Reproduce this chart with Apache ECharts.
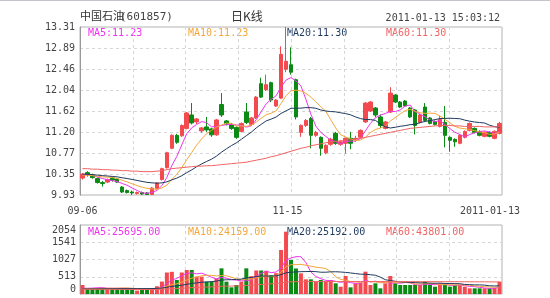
<!DOCTYPE html>
<html><head><meta charset="utf-8">
<script src="https://cdn.jsdelivr.net/npm/echarts@6/dist/echarts.min.js"></script>
<style>html,body{margin:0;padding:0;background:#fff}#c{width:550px;height:298px}</style>
</head><body><div id="c"></div>
<script>
const dates = ['2010-09-06','2010-09-07','2010-09-08','2010-09-09','2010-09-10','2010-09-13','2010-09-14','2010-09-15','2010-09-16','2010-09-17','2010-09-20','2010-09-21','2010-09-27','2010-09-28','2010-09-29','2010-09-30',
'2010-10-08','2010-10-11','2010-10-12','2010-10-13','2010-10-14','2010-10-15','2010-10-18','2010-10-19','2010-10-20','2010-10-21','2010-10-22','2010-10-25','2010-10-26','2010-10-27','2010-10-28','2010-10-29',
'2010-11-01','2010-11-02','2010-11-03','2010-11-04','2010-11-05','2010-11-08','2010-11-09','2010-11-10','2010-11-11','2010-11-12','2010-11-15','2010-11-16','2010-11-17','2010-11-18','2010-11-19','2010-11-22','2010-11-23','2010-11-24','2010-11-25','2010-11-26','2010-11-29','2010-11-30',
'2010-12-01','2010-12-02','2010-12-03','2010-12-06','2010-12-07','2010-12-08','2010-12-09','2010-12-10','2010-12-13','2010-12-14','2010-12-15','2010-12-16','2010-12-17','2010-12-20','2010-12-21','2010-12-22','2010-12-23','2010-12-24','2010-12-27','2010-12-28','2010-12-29','2010-12-30','2010-12-31',
'2011-01-04','2011-01-05','2011-01-06','2011-01-07','2011-01-10','2011-01-11','2011-01-12','2011-01-13'];
const xTickLabels = {0:'09-06', 42:'11-15', 84:'2011-01-13'};
const opens  = [10.27,10.38,10.33,10.26,10.18,10.19,10.27,10.25,10.09,10.02, 9.99,9.96,9.98,9.97,9.94,10.06,10.24,10.48,10.87,11.13, 11.12,11.27,11.54,11.40,11.22,11.30,11.26,11.14,11.75,11.42, 11.35,11.29,11.21,11.60,11.35,11.48,12.17,12.05,12.19,11.72, 11.88,12.46,12.55,12.25,11.19,11.33,11.47,11.13,11.09,10.78, 10.95,11.17,10.95,10.97,11.07,11.06,11.09,11.40,11.62,11.68, 11.50,11.27,11.60,11.94,11.80,11.82,11.68,11.64,11.39,11.70, 11.48,11.41,11.31,11.39,11.09,11.05,10.97,11.09,11.23,11.27, 11.21,11.11,11.19,11.07,11.17];
const closes = [10.35,10.34,10.28,10.18,10.16,10.24,10.23,10.19,9.99,9.98, 9.97,9.98,9.95,9.94,10.07,10.17,10.46,10.78,11.13,10.99, 11.33,11.58,11.38,11.46,11.28,11.24,11.14,11.44,11.54,11.36, 11.27,11.09,11.37,11.39,11.48,11.90,11.90,12.15,11.84,11.84, 12.76,12.62,12.40,11.50,11.33,11.43,11.13,11.19,10.87,10.93, 11.05,10.97,11.00,11.07,10.97,11.07,11.23,11.78,11.80,11.54, 11.33,11.40,11.98,11.80,11.70,11.72,11.50,11.33,11.54,11.43, 11.37,11.35,11.45,11.13,11.03,11.00,11.13,11.21,11.37,11.19, 11.13,11.19,11.11,11.21,11.37];
const lows   = [10.24,10.30,10.26,10.16,10.10,10.17,10.20,10.17,9.97,9.96, 9.93,9.94,9.93,9.93,9.93,10.04,10.22,10.46,10.85,10.96, 11.10,11.25,11.35,11.36,11.18,11.20,11.10,11.12,11.50,11.33, 11.24,11.06,11.19,11.36,11.33,11.46,11.88,12.02,11.80,11.70, 11.86,12.40,12.35,11.45,11.10,11.30,10.87,11.10,10.72,10.75, 10.92,10.94,10.92,10.76,10.85,11.00,11.07,11.38,11.60,11.50, 11.28,11.25,11.58,11.78,11.68,11.70,11.48,11.15,11.37,11.41, 11.35,11.33,11.29,10.89,10.80,10.90,10.95,11.07,11.21,11.17, 11.11,11.09,11.09,11.05,11.15];
const highs  = [10.37,10.41,10.36,10.28,10.21,10.26,10.29,10.27,10.11,10.04, 10.02,10.00,10.00,9.99,10.09,10.19,10.48,10.80,11.15,11.16, 11.35,11.60,11.78,11.48,11.30,11.50,11.28,11.46,11.98,11.44, 11.38,11.31,11.39,11.78,11.50,11.92,12.29,12.35,12.21,11.86, 12.92,13.31,12.90,12.27,11.35,11.46,11.50,11.22,11.11,10.95, 11.08,11.20,11.03,11.09,11.20,11.12,11.25,11.80,11.82,11.70, 11.55,11.42,12.10,11.96,11.82,11.84,11.70,11.66,11.56,11.78, 11.50,11.43,11.52,11.72,11.11,11.07,11.15,11.23,11.39,11.29, 11.23,11.21,11.21,11.23,11.40];
const priorCloses = [10.42,10.40,10.38,10.36,10.39,10.41,10.37,10.33,10.30,10.34,10.37,10.35,10.31,10.28,10.30,10.33,10.36,10.34,10.31];
const ma60Price = [10.46,10.46,10.45,10.45,10.44,10.44,10.43,10.43,10.42,10.42, 10.41,10.41,10.40,10.40,10.40,10.41,10.42,10.44,10.46,10.47, 10.48,10.49,10.50,10.51,10.51,10.52,10.52,10.53,10.54,10.55, 10.56,10.57,10.58,10.59,10.61,10.63,10.65,10.67,10.70,10.72, 10.75,10.78,10.81,10.84,10.87,10.89,10.92,10.94,10.96,10.98, 11.00,11.01,11.02,11.03,11.04,11.05,11.07,11.09,11.11,11.13, 11.15,11.17,11.19,11.21,11.23,11.25,11.27,11.28,11.29,11.30, 11.31,11.32,11.33,11.33,11.33,11.32,11.32,11.31,11.31,11.31, 11.31,11.30,11.30,11.30,11.30];
const volumes = [268,170,170,180,170,170,160,170,180,160, 160,100,150,140,170,230,370,640,660,417, 640,714,714,516,516,367,367,466,764,367, 198,268,367,764,530,700,700,690,560,620, 1310,1855,1012,760,615,437,437,367,417,367, 417,318,218,536,198,318,337,665,268,318, 169,318,536,318,268,268,268,268,268,367, 268,218,318,268,218,268,268,218,169,169, 169,169,169,180,367];
const priorVolumes = [150,140,160,130,150,170,140,130,150,160,140,130,120,150,140,160,150,130,140];
const ma60Vol = [140,140,139,139,138,138,137,137,136,136, 135,135,134,134,134,136,140,148,156,162, 170,180,190,197,204,208,213,219,230,235, 237,240,244,254,261,272,283,294,303,313, 330,355,362,366,368,369,370,371,371,372, 372,372,372,372,372,372,373,373,372,372, 371,371,370,370,369,369,368,368,368,367, 367,367,366,366,366,365,365,364,364,363, 362,362,361,360,359];
const priceTicks = ['9.93','10.35','10.77','11.20','11.62','12.04','12.46','12.89','13.31'];
const volTicks = ['0','513','1027','1541','2054'];
const priceMaLabels = ['MA5:11.23','MA10:11.23','MA20:11.30','MA60:11.30'];
const volMaLabels = ['MA5:25695.00','MA10:24159.00','MA20:25192.00','MA60:43801.00'];
const titleName = '中国石油', titleCode = '(601857)', titleKind = '日K线', timeStamp = '2011-01-13 15:03:12';

const UP = '#f34a4f', DOWN = '#0b8a14';
const MA_COLORS = ['#ee33ee', '#f4a73a', '#1e3a5f', '#f06464'];
const MONO = 'DejaVu Sans Mono';

function movingAvg(vals, prior, n) {
  const all = prior.concat(vals);
  const off = prior.length;
  return vals.map((_, i) => {
    const end = off + i;
    const start = end - n + 1;
    if (start < 0) return null;
    let s = 0;
    for (let k = start; k <= end; k++) s += all[k];
    return +(s / n).toFixed(3);
  });
}

const kData = opens.map((o, i) => [o, closes[i], lows[i], highs[i]]);
const volData = volumes.map((v, i) => ({ value: v, itemStyle: { color: closes[i] >= opens[i] ? UP : DOWN } }));
const priceMA = [movingAvg(closes, priorCloses, 5), movingAvg(closes, priorCloses, 10), movingAvg(closes, priorCloses, 20), ma60Price];
const volMA = [movingAvg(volumes, priorVolumes, 5), movingAvg(volumes, priorVolumes, 10), movingAvg(volumes, priorVolumes, 20), ma60Vol];

const chart = echarts.init(document.getElementById('c'), null, { renderer: 'canvas' });
const gridLine = { show: true, lineStyle: { type: [3, 3], color: '#d6d6d6', width: 1 } };
const labelStyle = { fontFamily: MONO, fontSize: 10, color: '#444' };

const maTexts = [];
[88, 188, 287, 386].forEach((x, k) => {
  maTexts.push({ type: 'text', x: x, y: 33, style: { text: priceMaLabels[k], font: '10px "' + MONO + '"', fill: MA_COLORS[k], verticalAlign: 'middle' } });
  maTexts.push({ type: 'text', x: x, y: 232, style: { text: volMaLabels[k], font: '10px "' + MONO + '"', fill: MA_COLORS[k], verticalAlign: 'middle' } });
});

const option = {
  animation: false,
  backgroundColor: '#fff',
  grid: [
    { left: 80, top: 27, width: 422, height: 168, show: true, borderColor: '#b4b4b4', borderWidth: 1 },
    { left: 80, top: 225, width: 422, height: 69, show: true, borderColor: '#b4b4b4', borderWidth: 1 }
  ],
  xAxis: [
    { type: 'category', gridIndex: 0, data: dates, boundaryGap: true,
      axisLine: { show: false }, axisTick: { show: false }, splitLine: { show: false },
      axisLabel: Object.assign({}, labelStyle, {
        interval: (i) => xTickLabels[i] !== undefined, margin: 11, hideOverlap: false,
        formatter: (v, i) => i === 84 ? '{r|' + xTickLabels[i] + '}' : (i === 42 ? '{m|' + xTickLabels[i] + '}' : (xTickLabels[i] || '')),
        rich: { r: { fontFamily: MONO, fontSize: 10, color: '#444', padding: [0, 19, 0, 0] },
                m: { fontFamily: MONO, fontSize: 10, color: '#444', padding: [0, 7, 0, 0] } }
      }) },
    { type: 'category', gridIndex: 1, data: dates, boundaryGap: true,
      axisLine: { show: false }, axisTick: { show: false }, axisLabel: { show: false }, splitLine: { show: false } },
    { type: 'value', gridIndex: 0, min: 0, max: 8, interval: 1, axisLine: { show: false }, axisTick: { show: false }, axisLabel: { show: false }, splitLine: gridLine },
    { type: 'value', gridIndex: 1, min: 0, max: 8, interval: 1, axisLine: { show: false }, axisTick: { show: false }, axisLabel: { show: false }, splitLine: gridLine }
  ],
  yAxis: [
    { type: 'value', gridIndex: 0, min: 0, max: 8, interval: 1, position: 'left',
      axisLine: { show: true, lineStyle: { color: '#999' } }, axisTick: { show: false }, splitLine: gridLine,
      axisLabel: Object.assign({}, labelStyle, { margin: 5, formatter: (v) => priceTicks[v] }) },
    { type: 'value', gridIndex: 0, min: 9.93, max: 13.31, show: false, splitLine: { show: false } },
    { type: 'value', gridIndex: 1, min: 0, max: 4, interval: 1, position: 'left',
      axisLine: { show: true, lineStyle: { color: '#999' } }, axisTick: { show: false }, splitLine: gridLine,
      axisLabel: Object.assign({}, labelStyle, { margin: 4, formatter: (v) => volTicks[v],
        verticalAlignMinLabel: 'bottom', verticalAlignMaxLabel: 'top' }) },
    { type: 'value', gridIndex: 1, min: 0, max: 2054, show: false, splitLine: { show: false } }
  ],
  series: [
    { type: 'candlestick', xAxisIndex: 0, yAxisIndex: 1, data: kData, barWidth: 4,
      itemStyle: { color: UP, color0: DOWN, borderColor: UP, borderColor0: DOWN, borderWidth: 1 } },
    ...priceMA.map((d, k) => ({ type: 'line', xAxisIndex: 0, yAxisIndex: 1, data: d, showSymbol: false, symbol: 'none',
      lineStyle: { width: 1, color: MA_COLORS[k] }, z: 3 })),
    { type: 'bar', xAxisIndex: 1, yAxisIndex: 3, data: volData, barWidth: 4 },
    ...volMA.map((d, k) => ({ type: 'line', xAxisIndex: 1, yAxisIndex: 3, data: d, showSymbol: false, symbol: 'none',
      lineStyle: { width: 1, color: MA_COLORS[k] }, z: 3 }))
  ],
  graphic: [
    { type: 'rect', shape: { x: 0, y: 0, width: 550, height: 1 }, style: { fill: '#c4c4cc' } },
    { type: 'text', x: 80, y: 16, style: { text: titleName, font: '11px "Noto Sans CJK SC"', fill: '#333', verticalAlign: 'middle' } },
    { type: 'text', x: 120, y: 17, style: { text: titleCode, font: '11px "' + MONO + '"', fill: '#444', verticalAlign: 'middle' } },
    { type: 'text', x: 231, y: 16, style: { text: titleKind, font: '12px "Noto Sans CJK SC"', fill: '#333', verticalAlign: 'middle' } },
    { type: 'text', x: 500, y: 18, style: { text: timeStamp, font: '10px "' + MONO + '"', fill: '#444', verticalAlign: 'middle', align: 'right' } },
    ...maTexts
  ]
};
chart.setOption(option);
</script></body></html>
